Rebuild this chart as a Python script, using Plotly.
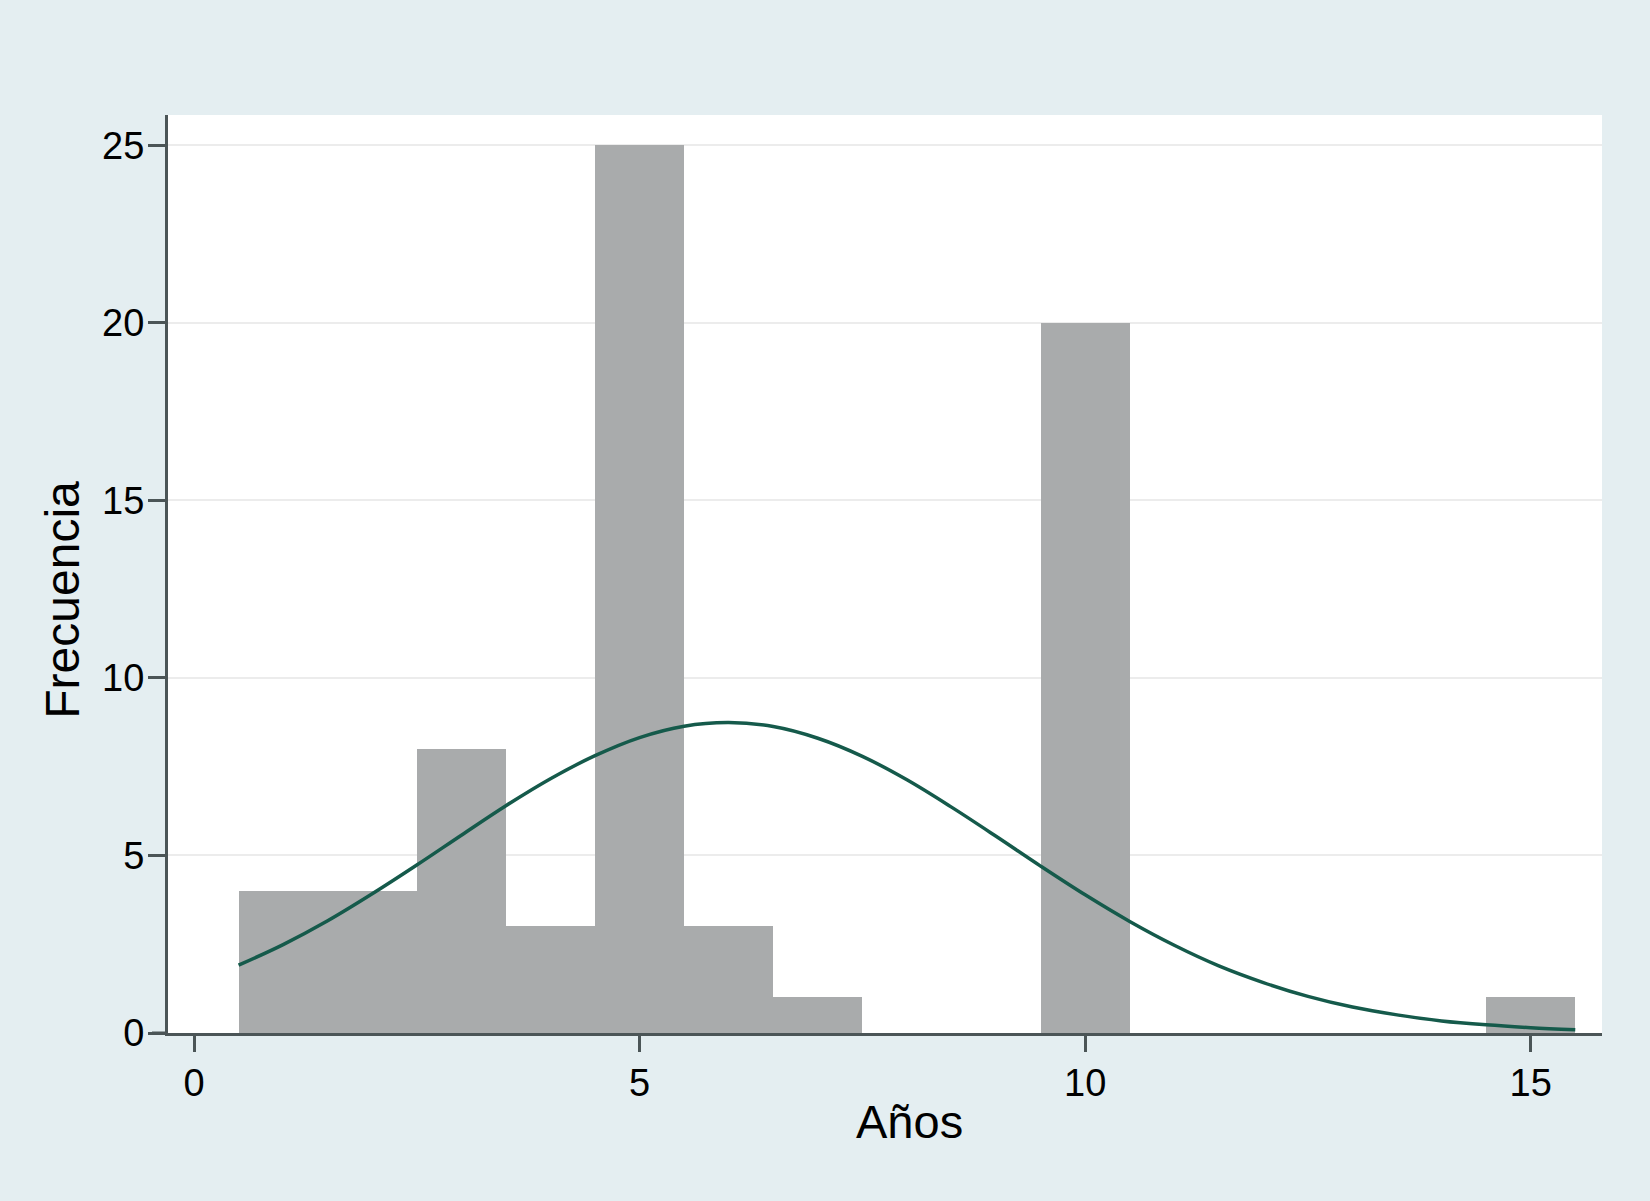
import plotly.graph_objects as go

# Histogram (bin centers = years, width 1)
years = [1, 2, 3, 4, 5, 6, 7, 8, 9, 10, 11, 12, 13, 14, 15]
counts = [4, 4, 8, 3, 25, 3, 1, 0, 0, 20, 0, 0, 0, 0, 1]

# Normal density overlay
curve_x = [0.5, 1, 1.5, 2, 2.5, 3, 3.5, 4, 4.5, 5, 5.5, 6, 6.5, 7, 7.5, 8,
           8.5, 9, 9.5, 10, 10.5, 11, 11.5, 12, 12.5, 13, 13.5, 14, 14.5, 15, 15.5]
curve_y = [1.91, 2.49, 3.16, 3.92, 4.73, 5.57, 6.40, 7.16, 7.81, 8.32, 8.64, 8.74,
           8.63, 8.30, 7.79, 7.13, 6.36, 5.54, 4.70, 3.89, 3.14, 2.47, 1.89, 1.42,
           1.03, 0.73, 0.51, 0.34, 0.23, 0.15, 0.09]

x_ticks = [0, 5, 10, 15]
y_ticks = [0, 5, 10, 15, 20, 25]

BG = "#e4eef1"
AXIS = "#4b5557"
FONT = "Liberation Sans, Arial, Helvetica, sans-serif"

fig = go.Figure()
fig.add_trace(go.Bar(x=years, y=counts, width=1,
                     marker=dict(color="#a9abac", line=dict(width=0)),
                     showlegend=False))
fig.add_trace(go.Scatter(x=curve_x, y=curve_y, mode="lines",
                         line=dict(color="#155a4b", width=3.5, shape="spline"),
                         showlegend=False))

fig.update_layout(
    width=1650, height=1201,
    paper_bgcolor=BG, plot_bgcolor="white",
    margin=dict(l=168, r=48, t=115, b=168),
    font=dict(family=FONT, color="black", size=38),
    bargap=0,
    xaxis=dict(range=[-0.292, 15.80], tickvals=x_ticks, ticks="outside",
               ticklen=16, tickwidth=3, tickcolor=AXIS,
               showline=True, linecolor=AXIS, linewidth=3,
               showgrid=False, zeroline=False,
               tickfont=dict(size=38), ticklabelstandoff=-2),
    yaxis=dict(range=[0, 25.85], tickvals=y_ticks, ticks="outside",
               ticklen=17, tickwidth=3, tickcolor=AXIS,
               showline=True, linecolor=AXIS, linewidth=3,
               showgrid=True, gridcolor="#ececec", gridwidth=2,
               zeroline=False, tickfont=dict(size=38), ticklabelstandoff=-4),
    annotations=[
        dict(text="Años", xref="paper", yref="paper", x=0.517, y=0,
             xanchor="center", yanchor="middle", yshift=-88,
             showarrow=False, font=dict(size=47, family=FONT)),
        dict(text="Frecuencia", xref="paper", yref="paper", x=0, y=0.472,
             xanchor="center", yanchor="middle", xshift=-105, textangle=-90,
             showarrow=False, font=dict(size=48, family=FONT)),
    ],
    shapes=[
        dict(type="line", xref="paper", yref="paper", x0=-16 / 1434, x1=0,
             y0=0, y1=0, line=dict(color=AXIS, width=3)),
    ],
)

fig.write_html("out.html", config={"displayModeBar": False},
               post_script="document.body.style.margin='0';document.body.style.overflow='hidden';")
